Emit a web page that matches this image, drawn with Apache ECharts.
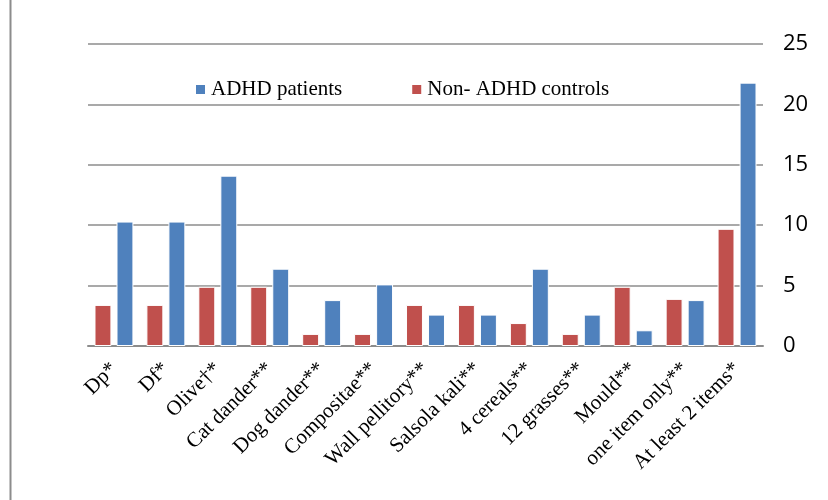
<!DOCTYPE html>
<html><head><meta charset="utf-8">
<script src="https://cdn.jsdelivr.net/npm/echarts@6/dist/echarts.min.js"></script>
<style>html,body{margin:0;padding:0;background:#fff}#c{width:828px;height:500px}</style>
</head><body><div id="c"></div>
<script>
const categories = ['Dp*','Df*','Olive†*','Cat dander**','Dog dander**','Compositae**','Wall pellitory**','Salsola kali**','4 cereals**','12 grasses**','Mould**','one item only**','At least 2 items*'];
const controls = [3.4,3.4,4.9,4.9,1.0,1.0,3.4,3.4,1.9,1.0,4.9,3.9,9.7];
const adhd = [10.3,10.3,14.1,6.4,3.8,5.1,2.6,2.6,6.4,2.6,1.3,3.8,21.8];
const yTicks = {min:0,max:25,interval:5};
const chart = echarts.init(document.getElementById('c'));
chart.setOption({
  animation:false,
  graphic:[{type:'line',shape:{x1:10.5,y1:0,x2:10.5,y2:500},style:{stroke:'#8c8c8c',lineWidth:2}}],
  legend:{
    data:['ADHD patients','Non- ADHD controls'],
    left:189, top:74, itemWidth:11, itemHeight:11, itemGap:68,
    icon:'rect',
    textStyle:{fontFamily:'Liberation Serif',fontSize:21,color:'#000'}
  },
  grid:{left:88,right:65,top:44,bottom:154},
  xAxis:{
    type:'category',data:categories,
    axisLine:{lineStyle:{color:'#8c8c8c',width:2}},
    axisTick:{show:false},
    axisLabel:{rotate:45,interval:0,fontFamily:'Liberation Serif',fontSize:21,color:'#000',margin:20}
  },
  yAxis:{
    type:'value',position:'right',min:yTicks.min,max:yTicks.max,interval:yTicks.interval,
    axisLine:{show:false},axisTick:{show:false},
    axisLabel:{fontFamily:'Open Sans',fontSize:22,color:'#000',margin:20},
    splitLine:{lineStyle:{color:'#8c8c8c',width:1.5}}
  },
  series:[
    {name:'Non- ADHD controls',type:'bar',data:controls,barGap:'30%',barCategoryGap:'25%',
     itemStyle:{color:'#c0504d',borderColor:'#fff',borderWidth:1}},
    {name:'ADHD patients',type:'bar',data:adhd,
     itemStyle:{color:'#4f81bd',borderColor:'#fff',borderWidth:1}}
  ]
});
</script></body></html>
